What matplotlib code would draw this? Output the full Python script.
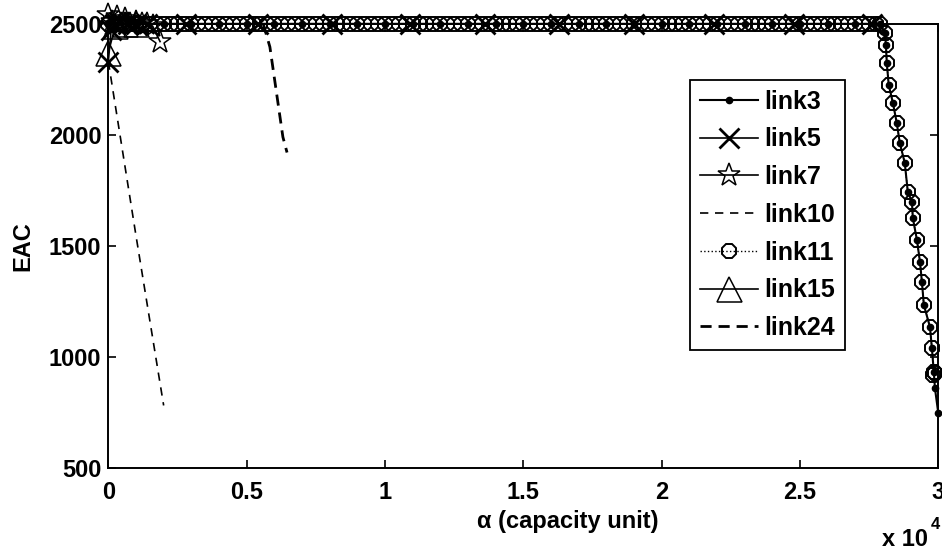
import matplotlib
matplotlib.use("Agg")
import matplotlib.pyplot as plt
import numpy as np

plt.rcParams['font.family'] = ['Liberation Sans', 'DejaVu Sans']
plt.rcParams['font.weight'] = 'bold'

# ---- data (x in capacity units, EAC on y) ----
plateau3_x = [0, 1000, 2000, 3000, 4000, 5000, 6000, 7000, 8000, 9000,
              10000, 11000, 12000, 13000, 14000, 15000, 16000, 17000, 18000,
              19000, 20000, 21000, 22000, 23000, 24000, 25000, 26000, 27000, 27900]
drop_x = [28070, 28110, 28140, 28210, 28360, 28500, 28610, 28790, 28900,
          29050, 29080, 29230, 29340, 29410, 29480, 29700, 29770, 29840]
drop_y = [2459, 2405, 2324, 2225, 2144, 2054, 1964, 1873, 1743,
          1698, 1626, 1526, 1427, 1337, 1233, 1134, 1040, 931]

link3_x = plateau3_x + drop_x + [29880, 30000]
link3_y = [2500] * len(plateau3_x) + drop_y + [859, 747]

# link11 is sampled very densely along the top, which draws the thick band
plateau11_x = [
    0, 250, 500, 750, 1000, 1250, 1500, 1750, 2000, 2250, 2500, 2750,
    3000, 3250, 3500, 3750, 4000, 4250, 4500, 4750, 5000, 5250, 5500, 5750,
    6000, 6250, 6500, 6750, 7000, 7250, 7500, 7750, 8000, 8250, 8500, 8750,
    9000, 9250, 9500, 9750, 10000, 10250, 10500, 10750, 11000, 11250, 11500,
    11750, 12000, 12250, 12500, 12750, 13000, 13250, 13500, 13750, 14000,
    14250, 14500, 14750, 15000, 15250, 15500, 15750, 16000, 16250, 16500,
    16750, 17000, 17250, 17500, 17750, 18000, 18250, 18500, 18750, 19000,
    19250, 19500, 19750, 20000, 20250, 20500, 20750, 21000, 21250, 21500,
    21750, 22000, 22250, 22500, 22750, 23000, 23250, 23500, 23750, 24000,
    24250, 24500, 24750, 25000, 25250, 25500, 25750, 26000, 26250, 26500,
    26750, 27000, 27250, 27500, 27750, 27900]
link11_x = plateau11_x + drop_x + [29800, 29870]
link11_y = [2500] * len(plateau11_x) + drop_y + [915, 925]

blob_x = [2800, 5400, 8100, 10900, 13600, 16300, 19000, 21900, 24800, 27600]
link5_x = [0, 100, 250, 400, 700, 1000, 1400] + blob_x
link5_y = [2330, 2470, 2500, 2510, 2500, 2500, 2500] + [2500] * len(blob_x)

link15_x = [0, 250, 600, 1000]
link15_y = [2370, 2490, 2500, 2500]

link7_x = [0, 150, 300, 450, 600, 800, 1000, 1200, 1400, 1600, 1870]
link7_y = [2540, 2510, 2530, 2500, 2520, 2500, 2510, 2500, 2500, 2490, 2420]

link10_x = [0, 1000, 2000]
link10_y = [2330, 1545, 780]

link24_x = [5600, 5840, 6310, 6460]
link24_y = [2500, 2396, 1990, 1920]

xscale = 1e4

fig = plt.figure(figsize=(9.42, 5.54), dpi=100)
ax = fig.add_axes([0.115, 0.156, 0.881, 0.801])

k = dict(color='black', clip_on=False)
ax.plot(np.array(link3_x) / xscale, link3_y, '-', marker='o', ms=4.5, lw=1.5,
        label='link3', zorder=5, **k)
ax.plot(np.array(link5_x) / xscale, link5_y, '-', marker='x', ms=14, mew=2.0,
        lw=1.2, label='link5', **k)
ax.plot(np.array(link7_x) / xscale, link7_y, '-', marker='*', ms=17, mfc='none',
        mew=1.1, lw=1.2, label='link7', **k)
ax.plot(np.array(link10_x) / xscale, link10_y, lw=1.2, dashes=(5, 4),
        label='link10', **k)
ax.plot(np.array(link11_x) / xscale, link11_y, ':', marker='8', ms=11, mfc='none',
        mew=1.4, lw=1.0, label='link11', **k)
ax.plot(np.array(link15_x) / xscale, link15_y, '-', marker='^', ms=18, mfc='none',
        mew=1.1, lw=1.2, label='link15', **k)
ax.plot(np.array(link24_x) / xscale, link24_y, lw=2.0, dashes=(4, 2.5),
        label='link24', **k)

ax.set_xlim(0, 3)
ax.set_ylim(500, 2500)
ax.set_xticks([0, 0.5, 1, 1.5, 2, 2.5, 3])
ax.set_xticklabels(['0', '0.5', '1', '1.5', '2', '2.5', '3'])
ax.set_yticks([500, 1000, 1500, 2000, 2500])
ax.tick_params(direction='in', length=6, width=1.2, top=True, right=True,
               labelsize=17)
ax.tick_params(axis='x', pad=10)
ax.tick_params(axis='y', pad=5)
for s in ax.spines.values():
    s.set_linewidth(1.4)

ax.set_xlabel('α (capacity unit)', fontsize=17, fontweight='bold')
ax.xaxis.set_label_coords(0.554, -0.095)
ax.set_ylabel('EAC', fontsize=17, fontweight='bold', labelpad=10)

fig.text(0.985, 0.006, 'x 10', ha='right', va='bottom', fontsize=17,
         fontweight='bold')
fig.text(0.988, 0.04, '4', ha='left', va='bottom', fontsize=12,
         fontweight='bold')

leg = ax.legend(loc='upper left', bbox_to_anchor=(0.701, 0.874),
                borderaxespad=0, fontsize=18, handlelength=2.3,
                handletextpad=0.25, labelspacing=0.55, borderpad=0.4,
                fancybox=False, framealpha=1, edgecolor='black')
leg.get_frame().set_linewidth(1.3)

fig.savefig('out.png', dpi=100)
